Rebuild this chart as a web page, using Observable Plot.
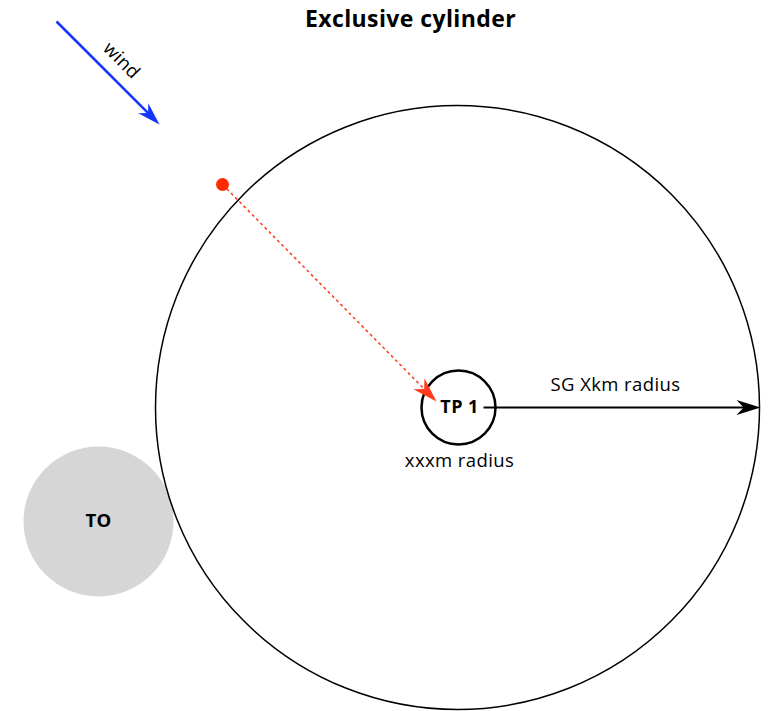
<!DOCTYPE html>
<html><head><meta charset="utf-8">
<script src="https://cdn.jsdelivr.net/npm/d3@7"></script>
<script src="https://cdn.jsdelivr.net/npm/@observablehq/plot@0.6"></script>
<style>body{margin:0;background:#fff} #chart text{letter-spacing:0.4px}</style>
</head><body><div id="chart"></div>
<script>
// Cylinders (drawing units)
const circleNames = ["SG cylinder", "TP 1", "TO"];
const circleX = [457, 458, 98];
const circleY = [407, 407, 521];
const circleR = [302, 37, 75];

// Arrows
const arrowNames = ["wind", "approach", "SG radius"];
const arrowX1 = [56, 222, 483];
const arrowY1 = [21, 184, 407];
const arrowX2 = [159, 436, 760];
const arrowY2 = [124, 401, 407];
const arrowHeadSize = [23, 25, 24];

// Start point
const startX = [222];
const startY = [184];

// Labels
const labelText = ["Exclusive cylinder", "wind", "TP 1", "xxxm radius", "SG Xkm radius", "TO"];
const labelX = [410, 121, 459, 459, 615, 98];
const labelY = [19, 60, 407, 461, 385, 521];

const circles = circleNames.map((n, i) => ({name: n, x: circleX[i], y: circleY[i], r: circleR[i]}));
const arrows = arrowNames.map((n, i) => ({name: n, x1: arrowX1[i], y1: arrowY1[i], x2: arrowX2[i], y2: arrowY2[i], s: arrowHeadSize[i]}));
const labels = labelText.map((t, i) => ({text: t, x: labelX[i], y: labelY[i]}));
const starts = startX.map((x, i) => ({x, y: startY[i]}));

const arrowHead = {
  draw(ctx, size) {
    const L = Math.sqrt(size / Math.PI);
    const W = L * 0.62;
    ctx.moveTo(0, 0);
    ctx.lineTo(-L, -W / 2);
    ctx.lineTo(-0.7 * L, 0);
    ctx.lineTo(-L, W / 2);
    ctx.closePath();
  }
};
const angle = d => Math.atan2(d.y2 - d.y1, d.x2 - d.x1) * 180 / Math.PI;

const colorOf = {"wind": "#1433ff", "approach": "#ff3a1a", "SG radius": "#000"};
const byName = n => arrows.filter(d => d.name === n);
const lbl = t => labels.filter(d => d.text === t);

const chart = Plot.plot({
  width: 769, height: 711,
  margin: 0,
  x: {domain: [0, 769], range: [0, 769], axis: null},
  y: {domain: [0, 711], range: [0, 711], axis: null},
  r: {type: "identity"},
  style: {fontFamily: "'Open Sans', 'Noto Sans', sans-serif", background: "#fff"},
  marks: [
    Plot.dot(circles.filter(d => d.name === "TO"), {x: "x", y: "y", r: "r", fill: "#d6d6d6", stroke: "none"}),
    Plot.dot(circles.filter(d => d.name === "SG cylinder"), {x: "x", y: "y", r: "r", fill: "none", stroke: "#000", strokeWidth: 1.5}),
    Plot.dot(circles.filter(d => d.name === "TP 1"), {x: "x", y: "y", r: "r", fill: "none", stroke: "#000", strokeWidth: 2.5}),
    // wind arrow
    Plot.link(byName("wind"), {x1: "x1", y1: "y1", x2: d => d.x2 - (d.x2 - d.x1) * 0.1, y2: d => d.y2 - (d.y2 - d.y1) * 0.1, stroke: colorOf["wind"], strokeWidth: 2.5}),
    Plot.dot(byName("wind"), {x: "x2", y: "y2", r: "s", symbol: arrowHead, rotate: angle, fill: colorOf["wind"], stroke: "none"}),
    // approach arrow (dashed)
    Plot.link(byName("approach"), {x1: "x1", y1: "y1", x2: d => d.x2 - (d.x2 - d.x1) * 0.05, y2: d => d.y2 - (d.y2 - d.y1) * 0.05, stroke: colorOf["approach"], strokeWidth: 1.5, strokeDasharray: "3,3"}),
    Plot.dot(byName("approach"), {x: "x2", y: "y2", r: "s", symbol: arrowHead, rotate: angle, fill: colorOf["approach"], stroke: "none"}),
    Plot.dot(starts, {x: "x", y: "y", r: 6.5, fill: "#ff2a00", stroke: "none"}),
    // SG radius arrow
    Plot.link(byName("SG radius"), {x1: "x1", y1: "y1", x2: d => d.x2 - 10, y2: "y2", stroke: colorOf["SG radius"], strokeWidth: 2}),
    Plot.dot(byName("SG radius"), {x: "x2", y: "y2", r: "s", symbol: arrowHead, rotate: angle, fill: "#000", stroke: "none"}),
    // labels
    Plot.text(lbl("Exclusive cylinder"), {x: "x", y: "y", text: "text", fontSize: 23, fontWeight: "bold", fill: "#000"}),
    Plot.text(lbl("wind"), {x: "x", y: "y", text: "text", fontSize: 18.5, rotate: 45, fill: "#000"}),
    Plot.text(lbl("TP 1"), {x: "x", y: "y", text: "text", fontSize: 18, fontWeight: "bold", fill: "#000"}),
    Plot.text(lbl("xxxm radius"), {x: "x", y: "y", text: "text", fontSize: 18.5, fill: "#000"}),
    Plot.text(lbl("SG Xkm radius"), {x: "x", y: "y", text: "text", fontSize: 18.5, fill: "#000"}),
    Plot.text(lbl("TO"), {x: "x", y: "y", text: "text", fontSize: 18.5, fontWeight: "bold", fill: "#000"})
  ]
});
document.getElementById("chart").appendChild(chart);
</script>
</body></html>
